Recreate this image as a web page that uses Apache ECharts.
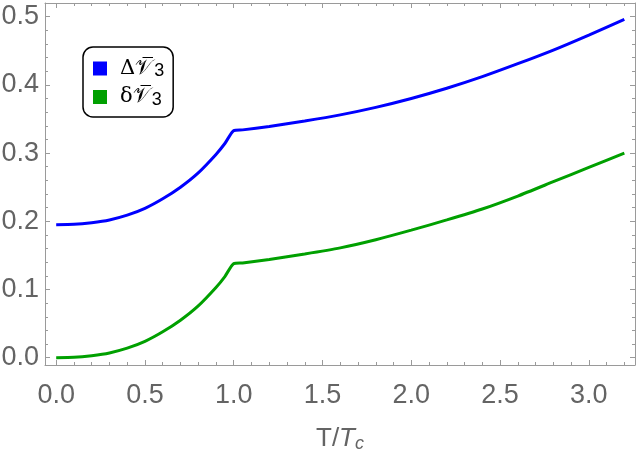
<!DOCTYPE html>
<html>
<head>
<meta charset="utf-8">
<script src="https://cdn.jsdelivr.net/npm/echarts@6/dist/echarts.min.js"></script>
<style>
html, body { margin: 0; padding: 0; background: #fff; }
#chart { width: 638px; height: 455px; }
</style>
</head>
<body>
<div id="chart"></div>
<script>
// T/Tc 取值
var tValues = [0, 0.1, 0.2, 0.3, 0.4, 0.5, 0.6, 0.7, 0.8, 0.9, 0.95, 1.0, 1.05, 1.2, 1.4, 1.6, 1.8, 2.0, 2.2, 2.4, 2.6, 2.8, 3.0, 3.2];
var deltaV3 = [0.195, 0.1955, 0.198, 0.202, 0.209, 0.219, 0.233, 0.250, 0.271, 0.298, 0.314, 0.333, 0.334, 0.339, 0.347, 0.356, 0.367, 0.380, 0.395, 0.412, 0.431, 0.451, 0.473, 0.496];
var smallDeltaV3 = [0.000, 0.0005, 0.003, 0.007, 0.014, 0.024, 0.038, 0.055, 0.076, 0.103, 0.119, 0.138, 0.139, 0.144, 0.152, 0.161, 0.173, 0.187, 0.202, 0.218, 0.237, 0.258, 0.279, 0.300];
var xTicks = [0, 0.5, 1.0, 1.5, 2.0, 2.5, 3.0];
var yTicks = [0, 0.1, 0.2, 0.3, 0.4, 0.5];

var xMinor = [];
for (var i = 0; i <= 32; i++) {
    if (i % 5 != 0) xMinor.push(i / 10);
}
var yMinor = [];
for (var j = 0; j <= 26; j++) {
    if (j % 5 != 0) yMinor.push(j / 50);
}

function pairs(xs, ys) {
    var arr = [];
    for (var k = 0; k < xs.length; k++) arr.push([xs[k], ys[k]]);
    return arr;
}

var frameColor = '#9a9a9a';
var labelColor = '#646464';
var xMin = -0.063, xMax = 3.26;
var yMin = -0.0107, yMax = 0.52;

function makeAxis(pos, min, max, ticks, len, showLine, showLabel) {
    return {
        type: 'value',
        position: pos,
        min: min,
        max: max,
        axisLine: { show: showLine, onZero: false, lineStyle: { color: frameColor, width: 1 } },
        axisTick: { show: true, inside: true, length: len, customValues: ticks, lineStyle: { color: frameColor, width: 1 } },
        axisLabel: {
            show: showLabel,
            customValues: ticks,
            color: labelColor,
            fontSize: 27,
            fontFamily: 'Liberation Sans, Arial, sans-serif',
            formatter: function (v) { return v.toFixed(1); }
        },
        splitLine: { show: false }
    };
}

var chart = echarts.init(document.getElementById('chart'));

var xBottom = makeAxis('bottom', xMin, xMax, xTicks, 5, true, true);
xBottom.axisLabel.margin = 17;
xBottom.name = 'T/{i|T}{s|c}';
xBottom.nameLocation = 'middle';
xBottom.nameGap = 60;
xBottom.nameTextStyle = {
    color: labelColor,
    fontSize: 26,
    fontFamily: 'Liberation Sans, Arial, sans-serif',
    rich: {
        i: { fontSize: 26, fontStyle: 'italic', color: labelColor, fontFamily: 'Liberation Sans, Arial, sans-serif' },
        s: { fontSize: 18, fontStyle: 'italic', color: labelColor, padding: [10, 0, 0, 0], fontFamily: 'Liberation Sans, Arial, sans-serif' }
    }
};

var yLeft = makeAxis('left', yMin, yMax, yTicks, 5, true, true);
yLeft.axisLabel.margin = 6;

var option = {
    animation: false,
    grid: { left: 45, right: 3, top: 3, bottom: 90, outerBoundsMode: 'none' },
    legend: {
        orient: 'vertical',
        left: 83,
        top: 47,
        padding: [11, 9, 8, 10],
        itemWidth: 14,
        itemHeight: 14,
        itemGap: 6,
        borderColor: '#000',
        borderWidth: 1.5,
        borderRadius: 10,
        icon: 'rect',
        data: [
            { name: 'delta', itemStyle: { color: '#0000ff' } },
            { name: 'sdelta', itemStyle: { color: '#00a000' } }
        ],
        formatter: function (name) {
            if (name == 'delta') return '{d|Δ}{v|𝒱̅}{s|3}';
            return '{d|δ}{v|𝒱̅}{s|3}';
        },
        textStyle: {
            color: '#000',
            rich: {
                d: { fontSize: 21, height: 24, padding: [0, 0, 0, 8], fontFamily: 'DejaVu Serif, serif' },
                v: { fontSize: 21, height: 24, fontFamily: 'DejaVu Serif, serif' },
                s: { fontSize: 18, height: 24, padding: [6, 0, 0, 1], fontFamily: 'Liberation Sans, Arial, sans-serif' }
            }
        }
    },
    xAxis: [
        xBottom,
        makeAxis('bottom', xMin, xMax, xMinor, 3, false, false),
        makeAxis('top', xMin, xMax, xTicks, 5, true, false),
        makeAxis('top', xMin, xMax, xMinor, 3, false, false)
    ],
    yAxis: [
        yLeft,
        makeAxis('left', yMin, yMax, yMinor, 3, false, false),
        makeAxis('right', yMin, yMax, yTicks, 5, true, false),
        makeAxis('right', yMin, yMax, yMinor, 3, false, false)
    ],
    series: [
        {
            name: 'delta',
            type: 'line',
            data: pairs(tValues, deltaV3),
            smooth: 0.2,
            showSymbol: false,
            lineStyle: { color: '#0000ff', width: 3 },
            itemStyle: { color: '#0000ff' }
        },
        {
            name: 'sdelta',
            type: 'line',
            data: pairs(tValues, smallDeltaV3),
            smooth: 0.2,
            showSymbol: false,
            lineStyle: { color: '#00a000', width: 3 },
            itemStyle: { color: '#00a000' }
        }
    ]
};
chart.setOption(option);
</script>
</body>
</html>
